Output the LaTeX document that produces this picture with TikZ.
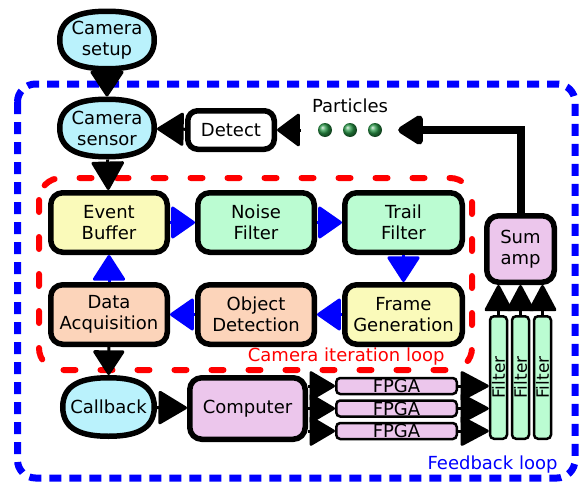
\documentclass[tikz,border=0pt]{standalone}
\usepackage{fontspec}
\setmainfont{DejaVu Sans}
\usetikzlibrary{arrows.meta}
\definecolor{ccyan}{RGB}{186,242,252}
\definecolor{cyel}{RGB}{250,250,186}
\definecolor{cmint}{RGB}{187,252,210}
\definecolor{cpeach}{RGB}{252,212,186}
\definecolor{clav}{RGB}{236,198,236}
\definecolor{pgreen}{RGB}{40,150,70}
\newcommand\ovalat[4]{%
  \draw[draw=black, line width=5.5pt, fill=ccyan, shift={(#1,#2)}]
    (-#3,0) .. controls (-#3,-0.8*#4) and (-0.55*#3,-#4) .. (0,-#4)
    .. controls (0.55*#3,-#4) and (#3,-0.8*#4) .. (#3,0)
    .. controls (#3,0.8*#4) and (0.55*#3,#4) .. (0,#4)
    .. controls (-0.55*#3,#4) and (-#3,0.8*#4) .. (-#3,0) -- cycle;}
\begin{document}
\begin{tikzpicture}[x=1pt,y=-1pt,
  txt/.style={font=\fontsize{18pt}{21pt}\selectfont, text=black, align=center},
  box/.style 2 args={txt, draw=black, line width=5.5pt, rounded corners=12pt, inner sep=0pt,
     minimum width=#1, minimum height=#2},
  oval/.style 2 args={txt, inner sep=0pt, outer sep=0pt, minimum width=#1, minimum height=#2},
  fpgabox/.style={txt, draw=black, line width=2.5pt, rounded corners=4pt, inner sep=0pt,
     minimum width=120.5pt, minimum height=16pt, fill=clav},
  filtbox/.style={font=\fontsize{17pt}{20pt}\selectfont, draw=black, line width=2.5pt, rounded corners=4pt, inner sep=0pt,
     minimum width=122.5pt, minimum height=17pt, fill=cmint, rotate=90},
  dot/.style={circle, minimum size=14pt, inner sep=0pt, shading=ball, ball color=pgreen},
  blk/.style 2 args={line width=3pt, draw=black, -{Triangle[round,length=#1,width=#2]}},
  blu/.style 2 args={line width=3pt, draw=blue, -{Triangle[round,length=#1,width=#2]}}
]
\useasboundingbox (0,0) rectangle (579,482);

% loops
\draw[blue, line width=7pt, dash pattern=on 12pt off 8pt, rounded corners=18pt] (17.5,84) rectangle (575,478);
\draw[red, line width=6pt, line cap=round, dash pattern=on 12pt off 25pt, rounded corners=22pt] (39,178) rectangle (472,370);
\node[txt, text=red, anchor=east] (itl) at (448,357) {Camera iteration loop};
\node[txt, text=blue, anchor=east] (fbl) at (561,465) {Feedback loop};

% oval shapes
\ovalat{107}{40}{47.25}{28.75}
\ovalat{107}{128}{47.25}{28.75}
\ovalat{108.5}{407}{45.75}{29.25}

% nodes
\node[oval={100pt}{63pt}] (setup) at (107,40) {Camera\\setup};
\node[oval={100pt}{63pt}] (sensor) at (107,128) {Camera\\sensor};
\node[box={86.5pt}{38.5pt}, fill=white, rounded corners=10pt] (detect) at (231,130) {Detect};
\node[txt] (plabel) at (350,106) {Particles};
\node[dot] (p1) at (325,130) {};
\node[dot] (p2) at (350,130) {};
\node[dot] (p3) at (375,130) {};

\node[box={116.5pt}{59.5pt}, fill=cyel] (event) at (109,222.5) {Event\\Buffer};
\node[box={116.5pt}{59.5pt}, fill=cmint] (noise) at (256,222.5) {Noise\\Filter};
\node[box={117.5pt}{59.5pt}, fill=cmint] (trail) at (403.5,222.5) {Trail\\Filter};
\node[box={116.5pt}{59.5pt}, fill=cpeach] (data) at (109,314.5) {Data\\Acquisition};
\node[box={116.5pt}{59.5pt}, fill=cpeach] (object) at (256,314.5) {Object\\Detection};
\node[box={117.5pt}{59.5pt}, fill=cyel] (frame) at (403.5,314.5) {Frame\\Generation};

\node[oval={97pt}{64pt}] (callback) at (108.5,407) {Callback};
\node[box={115.5pt}{61.5pt}, fill=clav] (computer) at (247.5,408.5) {Computer};
\node[fpgabox] (f1) at (396.5,386) {FPGA};
\node[fpgabox] (f2) at (396.5,408.5) {FPGA};
\node[fpgabox] (f3) at (396.5,431) {FPGA};
\node[filtbox] (fa) at (498.5,377.5) {Filter};
\node[filtbox] (fb) at (520.5,377.5) {Filter};
\node[filtbox] (fc) at (542.5,377.5) {Filter};
\node[box={67.5pt}{66.5pt}, fill=clav] (sum) at (520.5,249) {Sum\\amp};

% black connectors
\draw[blk={27pt}{35pt}] (setup) -- (sensor);
\draw[blk={30pt}{34pt}] (sensor) -- (event);
\draw[blk={28pt}{35pt}] (detect) -- (sensor);
\draw[blk={24pt}{35pt}, shorten <=17pt] (p1.west) -- (detect.east);
\draw[blk={26pt}{33pt}] (data) -- (callback);
\draw[blk={30pt}{35pt}] (callback) -- (computer);
\foreach \f in {f1,f2,f3}{
  \draw[blk={27pt}{31pt}] (computer.east |- \f.west) -- (\f.west);
  \draw[blk={30pt}{31pt}] (\f.east) -- (fa.north |- \f.east);
}
\foreach \f in {fa,fb,fc}{
  \draw[blk={28pt}{29pt}] (\f.east) -- (sum.south -| \f.east);
}
\draw[line width=8pt, -{Triangle[round,length=28pt,width=33pt]}, shorten >=16pt] (sum.north) |- (p3.east);

% blue connectors
\draw[blu={25pt}{34pt}] (event) -- (noise);
\draw[blu={25pt}{34pt}] (noise) -- (trail);
\draw[blu={27pt}{34pt}] (trail) -- (frame);
\draw[blu={25pt}{34pt}] (frame) -- (object);
\draw[blu={25pt}{34pt}] (object) -- (data);
\draw[blu={27pt}{34pt}] (data) -- (event);
\end{tikzpicture}
\end{document}
